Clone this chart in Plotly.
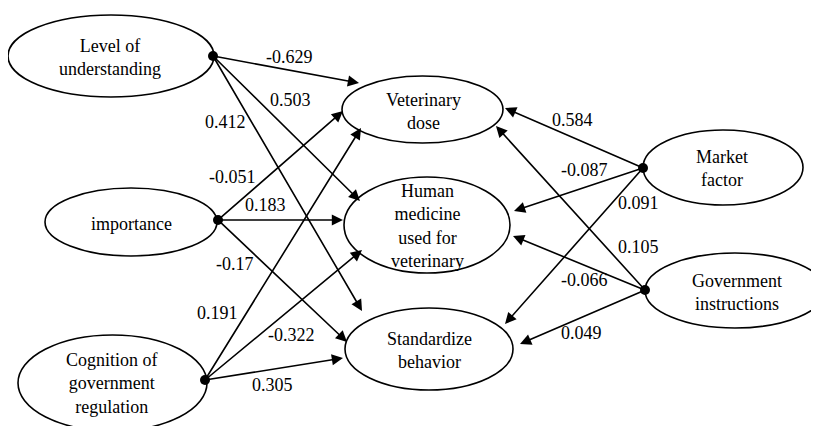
import plotly.graph_objects as go

# ---- data ----
node_names = ["Level of<br>understanding", "importance", "Cognition of<br>government<br>regulation",
              "Veterinary<br>dose", "Human<br>medicine<br>used for<br>veterinary", "Standardize<br>behavior",
              "Market<br>factor", "Government<br>instructions"]
edge_source = [0, 0, 0, 1, 1, 1, 2, 2, 2, 6, 6, 6, 7, 7, 7]
edge_target = [3, 4, 5, 3, 4, 5, 3, 4, 5, 3, 4, 5, 3, 4, 5]
edge_coef = ["-0.629", "0.503", "0.412", "-0.051", "0.183", "-0.17", "0.191", "-0.322", "0.305",
             "0.584", "-0.087", "0.091", "0.105", "-0.066", "0.049"]

# ---- layout geometry (pixel space) ----
node_box = [(8, 15, 214, 97), (45, 188, 217, 256), (18, 335, 207, 431),
            (342, 76, 503, 143), (344, 177, 510, 273), (345, 308, 513, 390),
            (643, 130, 803, 205), (645, 253, 825, 328)]
node_text_xy = [(110, 57), (131, 224), (112, 383), (423, 111), (427, 226), (429, 350), (722, 168), (737, 292)]
dot_xy = {0: (213, 56), 1: (218, 220), 2: (205, 380), 6: (643, 168), 7: (645, 290)}
tip_xy = [(359, 83), (360, 201), (362, 311), (343, 111), (343, 220), (347, 342), (361, 128), (362, 250),
          (343, 358), (505, 108), (514, 211), (505, 324), (496, 126), (513, 236), (520, 344)]
label_xy = [(289, 57), (290, 100), (225, 122), (232, 177), (265, 205), (235, 264), (217, 313), (291, 335),
            (272, 385), (572, 120), (584, 170), (638, 203), (638, 247), (584, 280), (581, 333)]

FONT = "Liberation Serif"
OFF = 8  # page body margin

fig = go.Figure()
shapes = []
annotations = []
for (x0, y0, x1, y1) in node_box:
    shapes.append(dict(type="circle", xref="x", yref="y", x0=x0, y0=y0, x1=x1, y1=y1,
                       line=dict(color="black", width=1.6), fillcolor="rgba(0,0,0,0)", layer="below"))
for name, (tx, ty) in zip(node_names, node_text_xy):
    annotations.append(dict(x=tx, y=ty, xref="x", yref="y", text=name, showarrow=False,
                            font=dict(family=FONT, size=18, color="black"), align="center"))
for s, t, (tx, ty) in zip(edge_source, edge_target, tip_xy):
    sx, sy = dot_xy[s]
    annotations.append(dict(x=tx, y=ty, ax=sx, ay=sy, xref="x", yref="y", axref="x", ayref="y",
                            text="", showarrow=True, arrowhead=2, arrowsize=1.4, arrowwidth=1.6,
                            arrowcolor="black", standoff=0, startstandoff=0))
for c, (lx, ly) in zip(edge_coef, label_xy):
    annotations.append(dict(x=lx, y=ly, xref="x", yref="y", text=c, showarrow=False,
                            font=dict(family=FONT, size=18, color="black"), bgcolor="rgba(0,0,0,0)"))

fig.add_trace(go.Scatter(x=[dot_xy[k][0] for k in dot_xy], y=[dot_xy[k][1] for k in dot_xy],
                         mode="markers", marker=dict(color="black", size=10), hoverinfo="skip",
                         showlegend=False))

fig.update_layout(width=819 - OFF, height=426 - OFF, margin=dict(l=0, r=0, t=0, b=0),
                  paper_bgcolor="white", plot_bgcolor="white", shapes=shapes, annotations=annotations,
                  font=dict(family=FONT),
                  xaxis=dict(range=[OFF, 819], visible=False, fixedrange=True),
                  yaxis=dict(range=[426, OFF], visible=False, fixedrange=True),
                  showlegend=False)
fig.write_html("out.html")
